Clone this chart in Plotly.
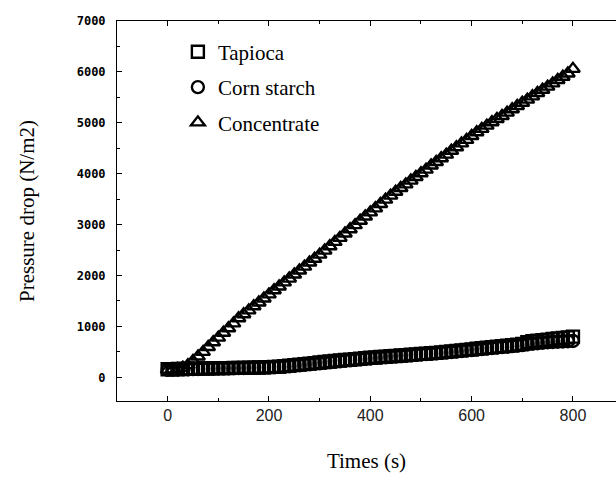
import plotly.graph_objects as go

# Time (s), sampled every 10 s
times = list(range(0, 801, 10))

tapioca = [160, 160, 165, 165, 170, 170, 170, 175, 175, 175,
           180, 180, 180, 185, 185, 185, 190, 190, 195, 195,
           200, 205, 210, 220, 230, 240, 250, 260, 270, 280,
           290, 300, 310, 320, 330, 340, 345, 355, 365, 375,
           385, 390, 400, 405, 415, 420, 430, 435, 445, 450,
           460, 465, 475, 480, 490, 500, 510, 520, 530, 540,
           550, 560, 570, 580, 590, 600, 610, 620, 630, 640,
           655, 690, 710, 720, 730, 740, 755, 765, 775, 785,
           800]

corn_starch = [150, 152, 155, 158, 160, 162, 165, 168, 170, 172,
               175, 176, 178, 180, 182, 184, 186, 188, 190, 192,
               195, 200, 205, 212, 220, 230, 240, 250, 260, 270,
               280, 290, 300, 310, 320, 330, 338, 348, 358, 368,
               375, 382, 392, 398, 408, 414, 422, 428, 436, 442,
               450, 456, 464, 470, 480, 490, 498, 508, 518, 528,
               536, 546, 556, 566, 576, 586, 596, 604, 614, 622,
               632, 650, 660, 670, 680, 690, 695, 700, 705, 710,
               715]

concentrate = [150, 155, 165, 190, 240, 320, 410, 500, 595, 690,
               780, 875, 965, 1060, 1160, 1240, 1315, 1395, 1470, 1550,
               1630, 1710, 1785, 1865, 1940, 2020, 2100, 2175, 2255, 2330,
               2410, 2490, 2575, 2660, 2740, 2825, 2910, 2990, 3075, 3160,
               3240, 3320, 3405, 3490, 3570, 3645, 3720, 3790, 3865, 3935,
               4010, 4080, 4160, 4230, 4305, 4375, 4450, 4520, 4595, 4665,
               4740, 4815, 4880, 4945, 5010, 5075, 5135, 5200, 5265, 5330,
               5395, 5455, 5520, 5585, 5650, 5710, 5775, 5840, 5905, 5970,
               6060]

x_ticks = [0, 200, 400, 600, 800]
y_ticks = [0, 1000, 2000, 3000, 4000, 5000, 6000, 7000]
y_ticktext = ["0", "1000", "2000", "3000", "4000", "5000", "6000", "7000"]

series = [
    ("Tapioca", tapioca, "square-open"),
    ("Corn starch", corn_starch, "circle-open"),
    ("Concentrate", concentrate, "triangle-up-open"),
]

fig = go.Figure()
for name, vals, sym in series:
    fig.add_trace(go.Scatter(
        x=times, y=vals, mode="markers", name=name, legendgroup=name,
        marker=dict(symbol=sym, size=12, color="black",
                    line=dict(color="black", width=2.4)),
    ))

axis_common = dict(
    showline=True, linecolor="black", linewidth=1,
    ticks="inside", tickcolor="black", ticklen=5, tickwidth=1,
    showgrid=False, zeroline=False,
)

fig.update_xaxes(
    range=[-100, 885], tickvals=x_ticks, mirror="ticks",
    tickfont=dict(family="Liberation Sans", size=16, color="#222"),
    minor=dict(dtick=100, tick0=0, ticks="inside", ticklen=3, tickcolor="black", showgrid=False),
    title=dict(text="Times (s)", font=dict(family="Liberation Serif", size=21, color="black"),
               standoff=30),
    **axis_common,
)
fig.update_yaxes(
    range=[-465, 7000], tickvals=y_ticks, ticktext=y_ticktext, mirror=False,
    tickfont=dict(family="DejaVu Sans Mono", size=12, color="black", weight="bold"),
    ticklabelstandoff=8,
    minor=dict(dtick=500, tick0=0, ticks="inside", ticklen=3, tickcolor="black", showgrid=False),
    title=dict(text="Pressure drop (N/m2)", font=dict(family="Liberation Serif", size=21, color="black"),
               standoff=36),
    **axis_common,
)

fig.update_layout(
    width=616, height=477,
    margin=dict(l=117, r=0, t=21, b=76),
    paper_bgcolor="white", plot_bgcolor="white",
    showlegend=True,
    legend=dict(x=0.122, y=0.972, xanchor="left", yanchor="top",
                font=dict(family="Liberation Serif", size=21, color="black"),
                bgcolor="rgba(0,0,0,0)", tracegroupgap=5, itemwidth=30),
)

fig.write_html("out.html")
